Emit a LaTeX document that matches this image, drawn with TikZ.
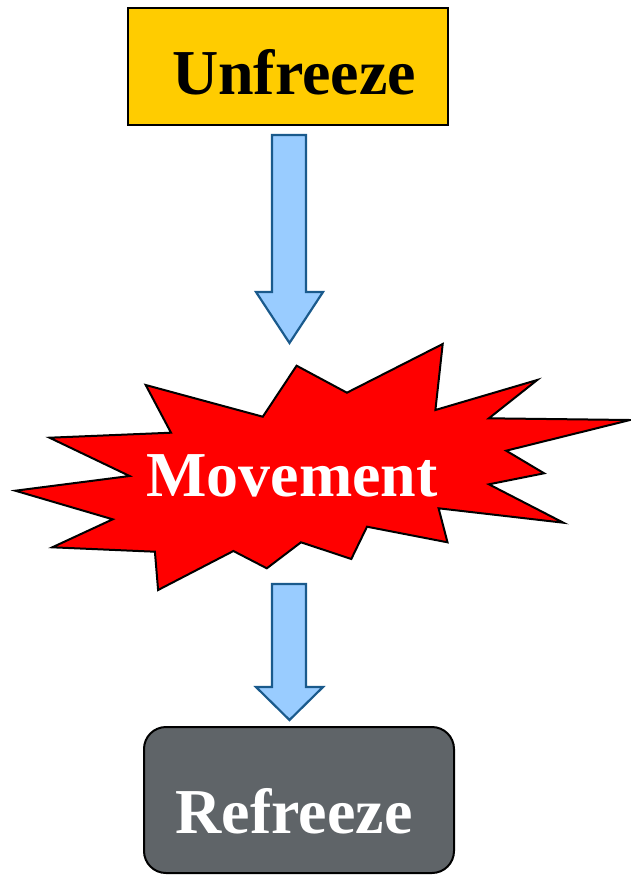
\documentclass[tikz,border=0pt]{standalone}
\usepackage{fontspec}
\setmainfont{Liberation Serif}
\begin{document}
\begin{tikzpicture}[x=1pt,y=-1pt,
  lbl/.style={font=\fontsize{64}{64}\selectfont\bfseries, inner sep=0pt, anchor=base},
  blockarrow/.style={fill=arrowfill, draw=arrowline, line width=2.2pt, line join=miter},
]
\definecolor{unfill}{HTML}{FFCC00}
\definecolor{refill}{HTML}{5F6468}
\definecolor{arrowfill}{HTML}{99CCFF}
\definecolor{arrowline}{HTML}{1A5A8C}
\useasboundingbox (0,0) rectangle (631,876);
% Unfreeze box
\draw[fill=unfill, line width=2pt] (128,8) rectangle (448,125);
\node[lbl, text=black] (unfreeze) at (294,94) {Unfreeze};
% arrow 1
\draw[blockarrow] (272,135) -- (306,135) -- (306,292) -- (323,292) -- (289.5,343)
  -- (256,292) -- (272,292) -- cycle;
% starburst
\draw[fill=red, line width=2pt, line join=miter]
  (145.7,385) -- (262.8,416.7) -- (296.6,365.7) -- (346.9,392.7) -- (442.7,344)
  -- (435.4,410) -- (537.2,380) -- (488.9,418.3) -- (630,420) -- (506.2,450.7)
  -- (544.1,473.3) -- (488.9,484.3) -- (563.4,522.7) -- (438.6,508.3)
  -- (447.5,542.3) -- (367,526.7) -- (351.3,559) -- (301,542.3) -- (266.8,568.3)
  -- (233.4,551) -- (158.1,590) -- (154.9,551.7) -- (52.3,547.3) -- (112.7,519.3)
  -- (15.3,490.7) -- (129.6,476) -- (49.5,437.7) -- (171,432.7) -- cycle;
\node[lbl, text=white] (movement) at (292,496) {Movement};
% arrow 2
\draw[blockarrow] (272,584) -- (306,584) -- (306,687) -- (323,687) -- (289.5,720)
  -- (256,687) -- (272,687) -- cycle;
% Refreeze box
\draw[fill=refill, line width=2pt, rounded corners=22pt] (144,727) rectangle (454,873);
\node[lbl, text=white] (refreeze) at (294,833) {Refreeze};
\end{tikzpicture}
\end{document}
